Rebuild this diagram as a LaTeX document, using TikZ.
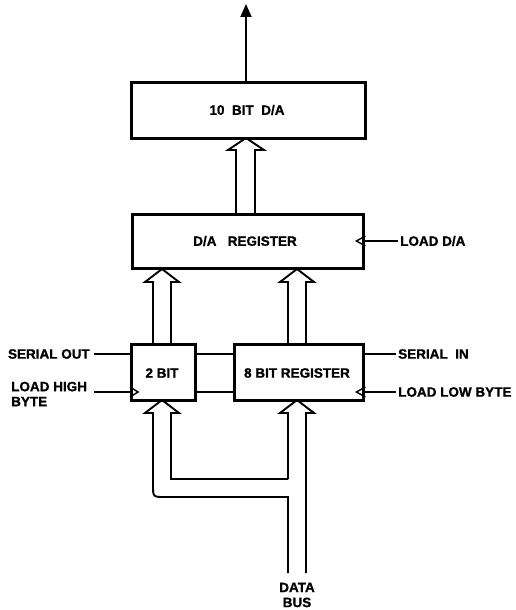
\documentclass[tikz,border=0pt]{standalone}
\usepackage{fontspec}
\setmainfont{Liberation Sans}[BoldFeatures={FakeBold=1.2}]
\usetikzlibrary{arrows.meta}
\begin{document}
\begin{tikzpicture}[x=1pt,y=-1pt,
  blk/.style={draw,line width=3.4pt,inner sep=0pt,anchor=north west},
  lbl/.style={font=\bfseries\fontsize{13.5}{15}\selectfont,inner sep=0pt},
  wire/.style={line width=1.9pt},
  bus/.style={line width=1.9pt,line join=miter},
  clk/.style={line width=1.4pt}]
\useasboundingbox (0,0) rectangle (516,610);
% boxes
\node[blk,minimum width=234pt,minimum height=56pt] (da) at (130,81) {};
\node[lbl] (datxt) at (247,110) {10\ \ BIT\ \ D/A};
\node[blk,minimum width=231pt,minimum height=54pt] (dareg) at (131,213) {};
\node[lbl] (dartxt) at (245,241) {D/A\ \ \ REGISTER};
\node[blk,minimum width=64pt,minimum height=56pt] (two) at (130,343) {};
\node[lbl] (twotxt) at (162,373) {2 BIT};
\node[blk,minimum width=129pt,minimum height=56pt] (eight) at (233,343) {};
\node[lbl] (eighttxt) at (297,373) {8 BIT REGISTER};
% output arrow
\coordinate (out) at (246,4);
\draw[wire,-{Triangle[length=13pt,width=11pt]}] (246,81) -- (out);
% clocks
\draw[clk] (dareg.east |- 0,236) -- ++(-9,5) -- ++(9,5);
\draw[clk] (two.west |- 0,387) -- ++(8,5) -- ++(-8,5);
\draw[clk] (eight.east |- 0,387) -- ++(-9,5) -- ++(9,5);
% side signals
\coordinate (lda) at (398,241);
\draw[wire] (dareg.east |- lda) -- (lda);
\node[lbl,anchor=west] (ldatxt) at (400,241) {LOAD D/A};
\coordinate (so) at (94,354);
\draw[wire] (two.west |- so) -- (so);
\node[lbl,anchor=east] (sotxt) at (90,354) {SERIAL OUT};
\coordinate (lh) at (94,392);
\draw[wire] (two.west |- lh) -- (lh);
\node[lbl,anchor=west,align=left] (lhtxt) at (11,394) {LOAD HIGH\\BYTE};
\coordinate (si) at (396,354);
\draw[wire] (eight.east |- si) -- (si);
\node[lbl,anchor=west] (sitxt) at (398,354) {SERIAL\ \ IN};
\coordinate (ll) at (396,392);
\draw[wire] (eight.east |- ll) -- (ll);
\node[lbl,anchor=west] (lltxt) at (398,392) {LOAD LOW BYTE};
% links between 2 bit and 8 bit
\draw[wire] (two.east |- 0,354) -- (eight.west |- 0,354);
\draw[wire] (two.east |- 0,392) -- (eight.west |- 0,392);
% bus: dareg -> da
\draw[bus] (236,213) -- (236,150) -- (228,150) -- (246,138) -- (264,150) -- (255,150) -- (255,213);
% bus: two -> dareg
\draw[bus] (153,343) -- (153,282) -- (145,282) -- (162,269) -- (179,282) -- (171,282) -- (171,343);
% bus: eight -> dareg
\draw[bus] (288,343) -- (288,282) -- (280,282) -- (297,269) -- (314,282) -- (306,282) -- (306,343);
% bus: data bus -> eight and two
\draw[bus] (288,479) -- (288,413) -- (280,413) -- (297,400) -- (314,413) -- (306,413) -- (306,573);
\draw[bus] (288,573) -- (288,497) -- (165,497) .. controls (153,497) .. (153,485) -- (153,413) -- (145,413) -- (162,400) -- (179,413) -- (171,413) -- (171,479) -- (288,479);
\node[lbl,align=center] (bustxt) at (297,595) {DATA\\BUS};
\end{tikzpicture}
\end{document}
